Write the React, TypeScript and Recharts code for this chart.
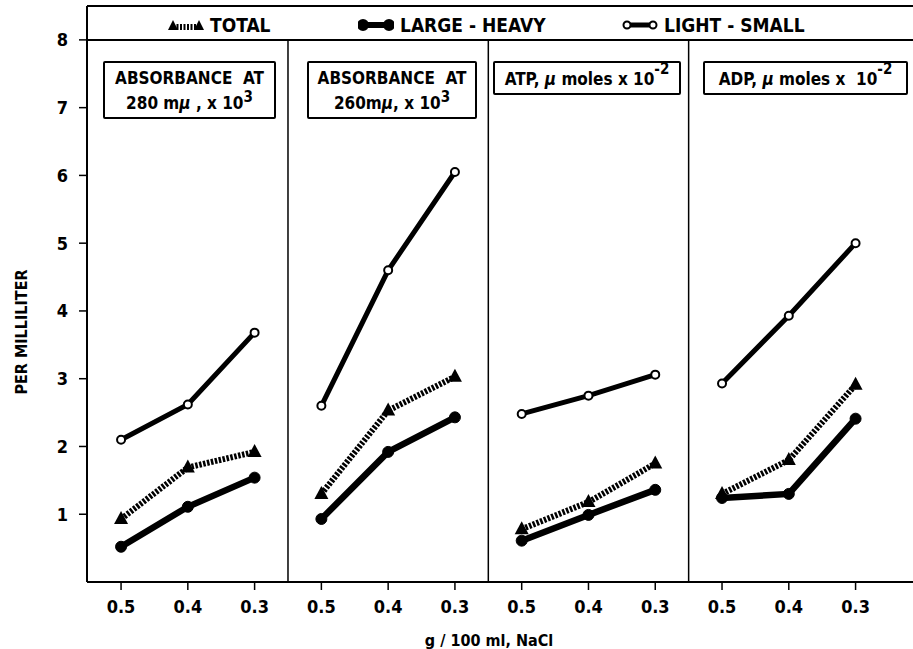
import React from 'react';
import { LineChart, Line, XAxis, YAxis, ReferenceLine, Legend } from 'recharts';

const categories = ['0.5', '0.4', '0.3'];
const panelTitles = ['280', '260', 'ATP', 'ADP'];
const yTicks = [1, 2, 3, 4, 5, 6, 7, 8];

// values per panel, in category order 0.5 / 0.4 / 0.3
const lightSmall = [
  [2.1, 2.62, 3.68],
  [2.6, 4.6, 6.05],
  [2.48, 2.75, 3.06],
  [2.93, 3.93, 5.0],
];
const largeHeavy = [
  [0.52, 1.11, 1.54],
  [0.93, 1.92, 2.43],
  [0.61, 0.99, 1.36],
  [1.24, 1.3, 2.41],
];
const total = [
  [0.93, 1.69, 1.92],
  [1.3, 2.53, 3.03],
  [0.78, 1.18, 1.75],
  [1.3, 1.8, 2.91],
];

const FONT = "'DejaVu Sans Condensed', 'DejaVu Sans', sans-serif";

type Row = { x: number; light: number | null; heavy: number | null; total: number | null };

// one row per point, plus an empty row between panels so the lines break there
const rows: Row[] = [];
const xTicks: number[] = [];
const dividers: number[] = [];
panelTitles.forEach((_, p) => {
  categories.forEach((_c, i) => {
    const x = p * 3 + i;
    xTicks.push(x);
    rows.push({ x, light: lightSmall[p][i], heavy: largeHeavy[p][i], total: total[p][i] });
  });
  if (p < panelTitles.length - 1) {
    dividers.push(p * 3 + 2.5);
    rows.push({ x: p * 3 + 2.5, light: null, heavy: null, total: null });
  }
});

const TriangleDot = (props: any) => {
  const { cx, cy, key } = props;
  if (cx == null || cy == null) return <g key={key} />;
  return <path key={key} d={`M${cx},${cy - 8} L${cx + 7},${cy + 5} L${cx - 7},${cy + 5} Z`} fill="#000" />;
};

const LegendIcon = ({ kind }: { kind: 'total' | 'heavy' | 'light' }) => (
  <svg width={36} height={14} style={{ marginRight: 6 }}>
    {kind === 'total' ? (
      <>
        <line x1={5} y1={9} x2={31} y2={9} stroke="#000" strokeWidth={6} strokeDasharray="2 1.5" />
        <path d="M5,2 L10,12 L0,12 Z" fill="#000" />
        <path d="M31,2 L36,12 L26,12 Z" fill="#000" />
      </>
    ) : (
      <>
        <line x1={5} y1={7} x2={31} y2={7} stroke="#000" strokeWidth={kind === 'heavy' ? 6 : 5} />
        <circle cx={5} cy={7} r={kind === 'heavy' ? 5 : 3.5} fill={kind === 'heavy' ? '#000' : '#fff'} stroke="#000" strokeWidth={2} />
        <circle cx={31} cy={7} r={kind === 'heavy' ? 5 : 3.5} fill={kind === 'heavy' ? '#000' : '#fff'} stroke="#000" strokeWidth={2} />
      </>
    )}
  </svg>
);

const legendItems: { kind: 'total' | 'heavy' | 'light'; text: string; left: number }[] = [
  { kind: 'total', text: 'TOTAL', left: 168 },
  { kind: 'heavy', text: 'LARGE - HEAVY', left: 358 },
  { kind: 'light', text: 'LIGHT - SMALL', left: 622 },
];

const renderLegend = () => (
  <div style={{ position: 'relative', height: 24, fontFamily: FONT, fontSize: 19, fontWeight: 'bold' }}>
    {legendItems.map((it) => (
      <div key={it.text} style={{ position: 'absolute', left: it.left, top: 0, display: 'flex', alignItems: 'center', whiteSpace: 'nowrap' }}>
        <LegendIcon kind={it.kind} />
        <span>{it.text}</span>
      </div>
    ))}
  </div>
);

const boxStyle: React.CSSProperties = {
  position: 'absolute',
  border: '2px solid #000',
  borderRadius: 2,
  background: '#fff',
  fontFamily: FONT,
  fontSize: 17,
  fontWeight: 'bold',
  textAlign: 'center',
  lineHeight: '25px',
  boxSizing: 'border-box',
  whiteSpace: 'nowrap',
};

const supStyle: React.CSSProperties = { fontSize: 15, verticalAlign: 'top', lineHeight: '12px' };

const App: React.FC = () => {
  return (
    <div style={{ position: 'absolute', left: 0, top: 0, width: 913, height: 649, background: '#fff' }}>
      <LineChart width={913} height={649} data={rows} margin={{ top: 6, right: 0, bottom: 7, left: 0 }}>
        <XAxis
          dataKey="x"
          type="number"
          domain={[-0.51, 11.86]}
          allowDataOverflow
          ticks={xTicks}
          tickFormatter={(v: number) => categories[Math.round(v) % 3]}
          height={60}
          tickSize={8}
          tickMargin={10}
          axisLine={{ stroke: '#000', strokeWidth: 2 }}
          tickLine={{ stroke: '#000', strokeWidth: 1.5 }}
          tick={{ fill: '#000', fontSize: 18, fontFamily: FONT, fontWeight: 'bold' }}
        />
        <YAxis
          type="number"
          domain={[0, 8.5]}
          allowDataOverflow
          ticks={yTicks}
          width={87}
          tickSize={8}
          tickMargin={11}
          axisLine={{ stroke: '#000', strokeWidth: 2 }}
          tickLine={{ stroke: '#000', strokeWidth: 1.5 }}
          tick={{ fill: '#000', fontSize: 18, fontFamily: FONT, fontWeight: 'bold' }}
        />
        <ReferenceLine y={8.5} stroke="#000" strokeWidth={2} />
        <ReferenceLine y={8} stroke="#000" strokeWidth={2} />
        {dividers.map((d) => (
          <ReferenceLine key={d} segment={[{ x: d, y: 0 }, { x: d, y: 8 }]} stroke="#000" strokeWidth={1.5} />
        ))}
        <Legend verticalAlign="middle" content={renderLegend} wrapperStyle={{ top: 14, left: 0, width: 913, height: 24 }} />
        <Line
          dataKey="total"
          stroke="#000"
          strokeWidth={6}
          strokeDasharray="2.5 1.5"
          dot={TriangleDot}
          connectNulls={false}
          isAnimationActive={false}
          legendType="none"
        />
        <Line
          dataKey="heavy"
          stroke="#000"
          strokeWidth={6.5}
          dot={{ r: 5.5, fill: '#000', stroke: '#000', strokeWidth: 1 }}
          connectNulls={false}
          isAnimationActive={false}
          legendType="none"
        />
        <Line
          dataKey="light"
          stroke="#000"
          strokeWidth={5}
          dot={{ r: 4, fill: '#fff', stroke: '#000', strokeWidth: 2 }}
          connectNulls={false}
          isAnimationActive={false}
          legendType="none"
        />
      </LineChart>

      <div style={{ ...boxStyle, left: 103, top: 61, width: 173, height: 58, paddingTop: 3 }}>
        ABSORBANCE&nbsp; AT
        <br />
        {panelTitles[0]} m<i>μ</i> , x 10<sup style={supStyle}>3</sup>
      </div>
      <div style={{ ...boxStyle, left: 307, top: 61, width: 170, height: 58, paddingTop: 3 }}>
        ABSORBANCE&nbsp; AT
        <br />
        {panelTitles[1]}m<i>μ</i>, x 10<sup style={supStyle}>3</sup>
      </div>
      <div style={{ ...boxStyle, left: 493, top: 61, width: 188, height: 34, lineHeight: '32px' }}>
        {panelTitles[2]}, <i>μ</i> moles x 10<sup style={supStyle}>-2</sup>
      </div>
      <div style={{ ...boxStyle, left: 703, top: 61, width: 205, height: 34, lineHeight: '32px' }}>
        {panelTitles[3]}, <i>μ</i> moles x&nbsp; 10<sup style={supStyle}>-2</sup>
      </div>

      <div
        style={{
          position: 'absolute',
          left: 21,
          top: 332,
          transform: 'translate(-50%, -50%) rotate(-90deg)',
          fontFamily: FONT,
          fontSize: 16,
          fontWeight: 'bold',
          whiteSpace: 'nowrap',
        }}
      >
        PER MILLILITER
      </div>
      <div
        style={{
          position: 'absolute',
          left: 489,
          top: 640,
          transform: 'translate(-50%, -50%)',
          fontFamily: FONT,
          fontSize: 16,
          fontWeight: 'bold',
          whiteSpace: 'nowrap',
        }}
      >
        g / 100 ml, NaCl
      </div>
    </div>
  );
};

export default App;
